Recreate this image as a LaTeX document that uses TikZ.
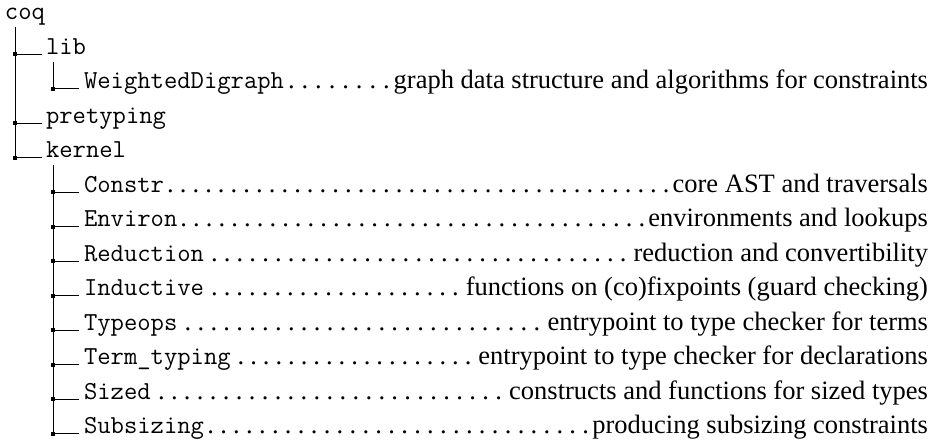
\documentclass[tikz,border=0pt]{standalone}
\usepackage{fontspec}
\setmainfont{Liberation Serif}
\newcommand\leaderdots{\xleaders\hbox to 12.6pt{\hss.\hss}\hfill}
\newcommand\entry[3][0pt]{\hbox to 844pt{{\fontsize{25.9}{30}\selectfont\ttfamily #2}\hskip#1\leaderdots\hskip#1 #3}}
\begin{document}
\begin{tikzpicture}[x=1pt,y=-1pt,
  every node/.style={inner sep=0pt,outer sep=0pt,anchor=base west,
    font=\fontsize{26.5}{30}\selectfont},
  dirname/.style={font=\fontsize{25.9}{30}\selectfont\ttfamily},
  treeline/.style={line width=1pt,black},
]
\useasboundingbox (0,0) rectangle (937,442);

% nodes
\node[dirname] (coq) at (5,19.5) {coq};
\node[dirname] (lib) at (46,54) {lib};
\node (wd) at (84,88.5) {\entry{WeightedDigraph}{graph data structure and algorithms for constraints}};
\node[dirname] (pre) at (46,123) {pretyping};
\node[dirname] (ker) at (46,157.5) {kernel};
\node (constr) at (84,192) {\entry{Constr}{core AST and traversals}};
\node (environ) at (84,226.5) {\entry{Environ}{environments and lookups}};
\node (reduction) at (84,261) {\entry[4pt]{Reduction}{reduction and convertibility}};
\node (inductive) at (84,295.5) {\entry[4pt]{Inductive}{functions on (co)fixpoints (guard checking)}};
\node (typeops) at (84,330) {\entry[4pt]{Typeops}{entrypoint to type checker for terms}};
\node (termtyping) at (84,364.5) {\entry[4pt]{Term\_typing}{entrypoint to type checker for declarations}};
\node (sized) at (84,399) {\entry[4pt]{Sized}{constructs and functions for sized types}};
\node (subsizing) at (84,433.5) {\entry{Subsizing}{producing subsizing constraints}};

% trunk coordinates
\coordinate (coqv) at ([xshift=10pt,yshift=-2pt]coq.south west);
\coordinate (libv) at ([xshift=7pt,yshift=-8pt]lib.base west);
\coordinate (kerv) at ([xshift=7pt,yshift=-7.5pt]ker.base west);

% connectors
\foreach \c in {lib,pre,ker}{
  \draw[treeline] (coqv) |- ([xshift=-4pt]\c.base west);
  \fill[shift={(coqv |- \c.base)}] (-2,-2) rectangle (2,2);
}
\draw[treeline] (libv) |- ([xshift=-5pt]wd.base west);
\fill[shift={(libv |- wd.base)}] (-2,-2) rectangle (2,2);
\foreach \c in {constr,environ,reduction,inductive,typeops,termtyping,sized,subsizing}{
  \draw[treeline] (kerv) |- ([xshift=-5pt]\c.base west);
  \fill[shift={(kerv |- \c.base)}] (-2,-2) rectangle (2,2);
}
\end{tikzpicture}
\end{document}
